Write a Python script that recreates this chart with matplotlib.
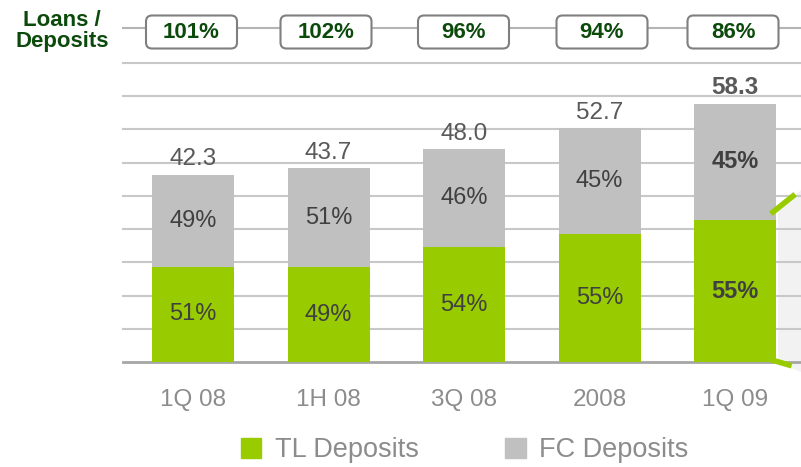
import matplotlib; matplotlib.use("Agg")
import matplotlib.pyplot as plt
import numpy as np
from matplotlib.patches import FancyBboxPatch, Polygon, Patch

plt.rcParams["font.family"] = ["Liberation Sans", "DejaVu Sans"]

periods = ["1Q 08", "1H 08", "3Q 08", "2008", "1Q 09"]
totals = [42.3, 43.7, 48.0, 52.7, 58.3]
tl_share = [51, 49, 54, 55, 55]
fc_share = [49, 51, 46, 45, 45]
ratios = ["101%", "102%", "96%", "94%", "86%"]

GREEN = "#99cc00"; GREY = "#c0c0c0"; DKGREEN = "#0c4a0c"
W, H = 801, 467

fig = plt.figure(figsize=(W/100, H/100), dpi=100)
# pixel overlay for decorations
deco = fig.add_axes([0, 0, 1, 1], zorder=0)
deco.set_xlim(0, W); deco.set_ylim(H, 0); deco.axis("off")
ax = fig.add_axes([123/W, (H-362.3)/H, 678/W, (362.3-62.7)/H], zorder=1)
ax.patch.set_alpha(0)

# light wedge at right edge
deco.add_patch(Polygon([(778, 210), (801, 190), (801, 372), (778, 363)], closed=True,
                       facecolor="#f2f2f2", edgecolor="none"))

x = np.arange(len(periods))
tl = np.array(totals) * np.array(tl_share) / 100
fc = np.array(totals) - tl
ax.bar(x, tl, width=0.605, color=GREEN, zorder=3)
ax.bar(x, fc, bottom=tl, width=0.605, color=GREY, zorder=3)
ax.set_xlim(-0.517, 4.487); ax.set_ylim(0, 67.5)
for yv in np.arange(7.5, 67.6, 7.5):
    ax.axhline(yv, color="#c8c8c8", lw=1.5, zorder=1, clip_on=False)
for s in ["top", "right", "left"]:
    ax.spines[s].set_visible(False)
ax.spines["bottom"].set_color("#a6a6a6"); ax.spines["bottom"].set_linewidth(2)
ax.set_yticks([])
ax.set_xticks(x, periods)
ax.tick_params(axis="x", length=0, pad=19, labelsize=17.5, labelcolor="#8c8c8c")

for i in range(len(periods)):
    bold = "bold" if i == len(periods) - 1 else "normal"
    ax.annotate(f"{totals[i]:.1f}", (x[i], totals[i]), xytext=(0, 3), textcoords="offset points",
                ha="center", va="bottom", fontsize=17.5, color="#595959", fontweight=bold)
    ax.text(x[i], tl[i]/2, f"{tl_share[i]}%", ha="center", va="center", fontsize=17,
            color="#404040", fontweight=bold, zorder=4)
    ax.text(x[i], tl[i] + fc[i]/2, f"{fc_share[i]}%", ha="center", va="center", fontsize=17,
            color="#404040", fontweight=bold, zorder=4)

# green slashes
ax.plot([773, 793], [212, 196], color=GREEN, lw=4, transform=deco.transData, clip_on=False, zorder=5)
ax.plot([765, 789], [358, 365], color=GREEN, lw=4, transform=deco.transData, clip_on=False, zorder=5)

# loans / deposits row
deco.plot([123, 801], [28, 28], color="#b4b4b4", lw=1.5, zorder=1)
deco.text(62, 31, "Loans /\nDeposits", ha="center", va="center", fontsize=16, fontweight="bold",
          color=DKGREEN, linespacing=0.95)
box_cx = [191.5, 326, 463.5, 602, 733]
for cx, r in zip(box_cx, ratios):
    deco.add_patch(FancyBboxPatch((cx - 45.5, 15.5), 91, 33, boxstyle="round,pad=0,rounding_size=6",
                                  facecolor="white", edgecolor="#7f7f7f", lw=1.5, zorder=2))
    deco.text(cx, 32.5, r, ha="center", va="center", fontsize=16, fontweight="bold",
              color=DKGREEN, zorder=3)

handles = [Patch(color=GREEN, label="TL Deposits"), Patch(color=GREY, label="FC Deposits")]
leg = fig.legend(handles=handles, loc="center", bbox_to_anchor=(0.58, 0.036), ncol=2, frameon=False,
                 fontsize=19.5, handlelength=0.75, handleheight=0.75, handletextpad=0.5, columnspacing=3.2)
for t in leg.get_texts():
    t.set_color("#8c8c8c")

fig.savefig("out.png", dpi=100)
